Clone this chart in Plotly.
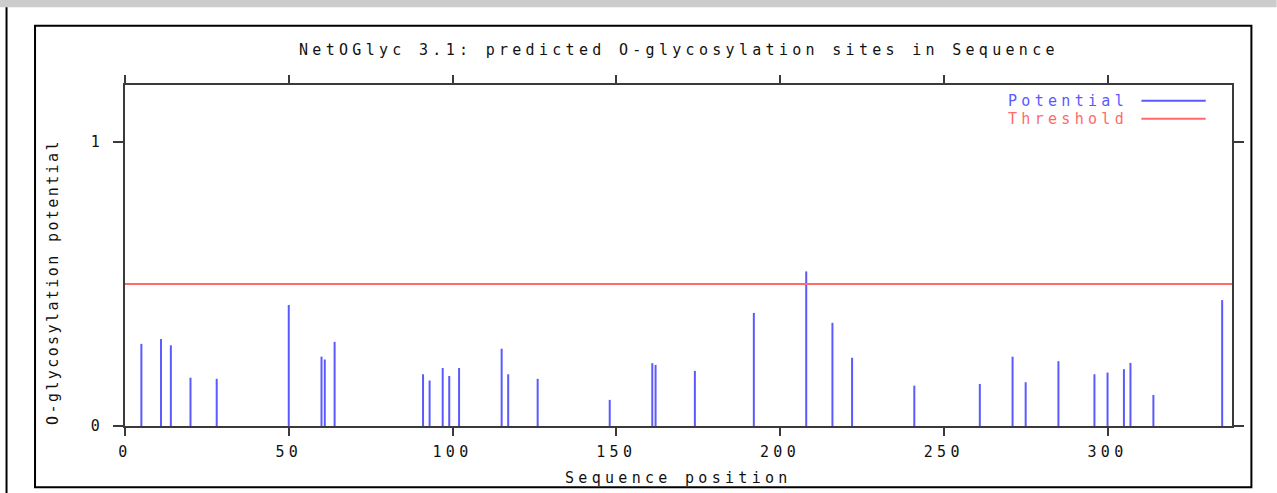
import plotly.graph_objects as go

# ---- data ----
positions = [5, 11, 14, 20, 28, 50, 60, 61, 64, 91, 93, 97, 99, 102, 115, 117, 126,
             148, 161, 162, 174, 192, 208, 216, 222,
             241, 261, 271, 275, 285, 296, 300, 305, 307, 314, 335]
potentials = [0.289, 0.306, 0.284, 0.170, 0.166, 0.426, 0.244, 0.234, 0.296, 0.182, 0.160,
              0.204, 0.176, 0.204, 0.272, 0.182, 0.166,
              0.092, 0.221, 0.215, 0.194, 0.398, 0.544, 0.363, 0.240,
              0.142, 0.148, 0.244, 0.154, 0.228, 0.182, 0.188, 0.200, 0.222, 0.109, 0.443]
threshold = 0.5
seq_length = 338
x_ticks = [0, 50, 100, 150, 200, 250, 300]
y_ticks = [0, 1]

title_text = "NetOGlyc 3.1: predicted O-glycosylation sites in Sequence"
xlabel = "Sequence position"
ylabel = "O-glycosylation potential"

FONT = "DejaVu Sans Mono"
BLUE = "#5a5aff"
RED = "#ff6a6a"
AXC = "#3a3a3a"


def spaced(s, ls=4.3):
    return f'<span style="letter-spacing:{ls}px">{s}</span>'


# build stick coordinates
xs, ys = [], []
for p, v in zip(positions, potentials):
    xs += [p, p, None]
    ys += [0, v, None]

fig = go.Figure()
fig.add_trace(go.Scatter(x=xs, y=ys, mode="lines", line=dict(color=BLUE, width=2),
                         name="Potential", showlegend=False, hoverinfo="skip"))
fig.add_trace(go.Scatter(x=[0, seq_length], y=[threshold, threshold], mode="lines",
                         line=dict(color=RED, width=2), name="Threshold",
                         showlegend=False, hoverinfo="skip"))

W, H = 1277, 493
L, R, T, B = 125, 1232.3, 85, 425.7
pw, ph = R - L, B - T


def px(xp):
    return (xp - L) / pw


def py(yp):
    return (B - yp) / ph


fig.update_layout(
    width=W, height=H, autosize=False,
    margin=dict(l=L, r=W - R, t=T, b=H - B, pad=0),
    paper_bgcolor="white", plot_bgcolor="white",
    font=dict(family=FONT, size=15, color="#111"),
    showlegend=False,
)

fig.update_xaxes(range=[0, seq_length], showgrid=False, zeroline=False,
                 showline=True, linecolor=AXC, linewidth=2, mirror="ticks",
                 ticks="outside", ticklen=8, tickwidth=2, tickcolor=AXC,
                 tickvals=x_ticks, ticktext=[spaced(str(t)) for t in x_ticks],
                 ticklabelstandoff=3)
fig.update_yaxes(range=[0, 1.2], showgrid=False, zeroline=False,
                 showline=True, linecolor=AXC, linewidth=2, mirror="ticks",
                 ticks="outside", ticklen=10, tickwidth=2, tickcolor=AXC,
                 tickvals=y_ticks, ticktext=[spaced(str(t)) for t in y_ticks],
                 ticklabelstandoff=6)

shapes = [
    # grey strip at top
    dict(type="rect", xref="paper", yref="paper", x0=px(0), x1=px(W), y0=py(7.3), y1=py(0),
         fillcolor="#cccccc", line=dict(width=0), layer="below"),
    # left black rule
    dict(type="line", xref="paper", yref="paper", x0=px(6.5), x1=px(6.5), y0=py(7.3), y1=py(H),
         line=dict(color="black", width=2)),
    # outer frame
    dict(type="rect", xref="paper", yref="paper", x0=px(35), x1=px(1251.7), y0=py(487), y1=py(25.7),
         line=dict(color="black", width=2), fillcolor="rgba(0,0,0,0)"),
    # legend samples
    dict(type="line", xref="paper", yref="paper", x0=px(1141.7), x1=px(1206), y0=py(100.7), y1=py(100.7),
         line=dict(color=BLUE, width=2)),
    dict(type="line", xref="paper", yref="paper", x0=px(1141.7), x1=px(1206), y0=py(118.7), y1=py(118.7),
         line=dict(color=RED, width=2)),
]
fig.update_layout(shapes=shapes)

annotations = [
    dict(text=spaced(title_text), x=px(678.7), y=py(50), xref="paper", yref="paper",
         xanchor="center", yanchor="middle", showarrow=False, font=dict(size=15, color="#111")),
    dict(text=spaced(xlabel), x=px(678.7), y=py(478), xref="paper", yref="paper",
         xanchor="center", yanchor="middle", showarrow=False, font=dict(size=15, color="#111")),
    dict(text=spaced(ylabel, 2.4), x=px(52.7), y=py(282), xref="paper", yref="paper",
         xanchor="center", yanchor="middle", textangle=-90, showarrow=False,
         font=dict(size=15, color="#111")),
    dict(text=spaced("Potential"), x=px(1130), y=py(100.7), xref="paper", yref="paper",
         xanchor="right", yanchor="middle", showarrow=False, font=dict(size=15, color=BLUE)),
    dict(text=spaced("Threshold"), x=px(1130), y=py(118.7), xref="paper", yref="paper",
         xanchor="right", yanchor="middle", showarrow=False, font=dict(size=15, color=RED)),
]
fig.update_layout(annotations=annotations)

fig.write_html("out.html",
               config={"displayModeBar": False, "staticPlot": True},
               post_script="document.body.style.margin='0';document.body.style.overflow='hidden';")
